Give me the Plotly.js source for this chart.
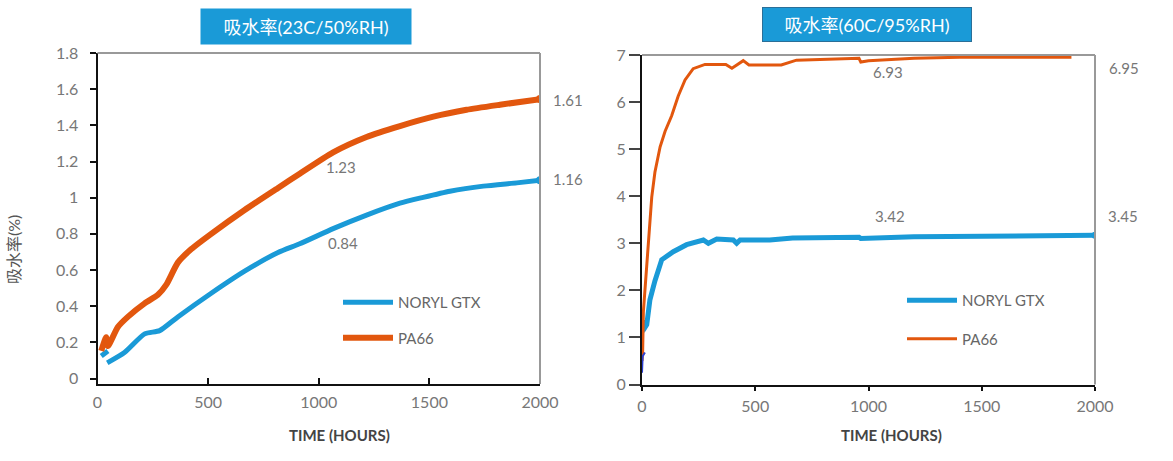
<!DOCTYPE html>
<html>
<head>
<meta charset="utf-8">
<script src="https://cdn.plot.ly/plotly-3.0.1.min.js"></script>
<style>html,body{margin:0;padding:0;background:#fff;}#chart{width:1173px;height:461px;}</style>
</head>
<body>
<div id="chart"></div>
<script>
// ---- Data: left chart (23C / 50%RH) ----
const leftPA66Hours   = [17, 39, 47, 92, 137, 213, 273, 311, 363, 424, 514, 665, 816, 914, 1065, 1216, 1367, 1518, 1668, 1819, 2000];
const leftPA66Values  = [0.153, 0.228, 0.18, 0.285, 0.341, 0.416, 0.463, 0.519, 0.641, 0.716, 0.80, 0.932, 1.054, 1.133, 1.251, 1.336, 1.396, 1.448, 1.486, 1.514, 1.545];
const leftNorylHours  = [17, 47, null, 44, 122, 213, 281, 363, 514, 665, 816, 914, 1065, 1216, 1367, 1472, 1593, 1744, 1895, 2000];
const leftNorylValues = [0.125, 0.153, null, 0.087, 0.144, 0.247, 0.265, 0.341, 0.472, 0.594, 0.697, 0.745, 0.829, 0.904, 0.970, 1.002, 1.036, 1.064, 1.082, 1.096];

// ---- Data: right chart (60C / 95%RH) ----
const rightPA66Hours   = [0, 3, 6, 21, 30, 43, 57, 80, 102, 131, 160, 190, 226, 278, 370, 397, 447, 472, 615, 682, 958, 966, 1000, 1201, 1402, 1896];
const rightPA66Values  = [0.5, 0.72, 1.54, 2.47, 3.1, 3.98, 4.51, 5.05, 5.38, 5.71, 6.13, 6.47, 6.71, 6.80, 6.80, 6.72, 6.88, 6.79, 6.79, 6.89, 6.93, 6.85, 6.88, 6.93, 6.95, 6.95];
const rightNorylHours  = [0, 2, 5, 21, 35, 57, 87, 138, 197, 271, 293, 330, 403, 418, 433, 564, 665, 958, 966, 1200, 2000];
const rightNorylValues = [1.1, 1.37, 1.15, 1.27, 1.8, 2.2, 2.65, 2.82, 2.97, 3.07, 3.0, 3.09, 3.07, 3.0, 3.07, 3.07, 3.11, 3.13, 3.1, 3.14, 3.17];
const rightStartHours  = [0, 3, 13];
const rightStartValues = [0.25, 0.6, 0.68];

// ---- Text ----
const seriesNames = ['NORYL GTX', 'PA66'];
const chartTitles = ['吸水率(23C/50%RH)', '吸水率(60C/95%RH)'];
const yTitle = '吸水率(%)';
const xTitle = 'TIME (HOURS)';
const leftTicks = [0, 0.2, 0.4, 0.6, 0.8, 1, 1.2, 1.4, 1.6, 1.8];
const rightTicks = [0, 1, 2, 3, 4, 5, 6, 7];
const xTicks = [0, 500, 1000, 1500, 2000];
const leftLabels = ['1.61', '1.16', '1.23', '0.84'];
const rightLabels = ['6.93', '6.95', '3.42', '3.45'];

const BLUE = '#1a9ad7', ORANGE = '#e2570e', DARKBLUE = '#2a3fd0';
const FONT = "Lato, 'Noto Sans CJK SC', sans-serif";
const W = 1173, H = 461;
const PX = x => x / W, PY = y => 1 - y / H;
const last = a => a[a.length - 1];

const traces = [
  {x: leftNorylHours, y: leftNorylValues, name: seriesNames[0], xaxis: 'x', yaxis: 'y', mode: 'lines',
   line: {color: BLUE, width: 5, shape: 'spline', smoothing: 0.6}, legend: 'legend', legendgroup: 'a', connectgaps: false},
  {x: leftPA66Hours, y: leftPA66Values, name: seriesNames[1], xaxis: 'x', yaxis: 'y', mode: 'lines',
   line: {color: ORANGE, width: 6, shape: 'spline', smoothing: 0.6}, legend: 'legend', legendgroup: 'b'},
  {x: [last(leftNorylHours)], y: [last(leftNorylValues)], xaxis: 'x', yaxis: 'y', mode: 'markers',
   marker: {color: BLUE, size: 8}, showlegend: false, hoverinfo: 'skip'},
  {x: [last(leftPA66Hours)], y: [last(leftPA66Values)], xaxis: 'x', yaxis: 'y', mode: 'markers',
   marker: {color: ORANGE, size: 8}, showlegend: false, hoverinfo: 'skip'},

  {x: rightNorylHours, y: rightNorylValues, name: seriesNames[0], xaxis: 'x2', yaxis: 'y2', mode: 'lines',
   line: {color: BLUE, width: 5}, legend: 'legend2', legendgroup: 'c'},
  {x: rightPA66Hours, y: rightPA66Values, name: seriesNames[1], xaxis: 'x2', yaxis: 'y2', mode: 'lines',
   line: {color: ORANGE, width: 3}, legend: 'legend2', legendgroup: 'd'},
  {x: rightStartHours, y: rightStartValues, xaxis: 'x2', yaxis: 'y2', mode: 'lines',
   line: {color: DARKBLUE, width: 2}, showlegend: false, hoverinfo: 'skip'},
  {x: [last(rightNorylHours)], y: [last(rightNorylValues)], xaxis: 'x2', yaxis: 'y2', mode: 'markers',
   marker: {color: BLUE, size: 7}, showlegend: false, hoverinfo: 'skip'}
];

const tickFont = {family: FONT, size: 16, color: '#777'};
const xAxisBase = {
  range: [0, 2000], tickvals: xTicks, showgrid: false, zeroline: false,
  showline: true, linecolor: '#111', linewidth: 2, tickfont: tickFont,
  tickcolor: '#111', tickwidth: 2, fixedrange: true
};

function label(text, x, y, font, extra) {
  return Object.assign({text: text, xref: 'paper', yref: 'paper', x: PX(x), y: PY(y),
    xanchor: 'center', yanchor: 'middle', showarrow: false, font: font}, extra || {});
}
const valFont = {family: FONT, size: 15, color: '#777'};
const titleFont = {family: FONT, size: 18, color: '#fff'};
const xtFont = {family: FONT, size: 15, color: '#444', weight: 'bold'};

const layout = {
  width: W, height: H, margin: {l: 0, r: 0, t: 0, b: 0},
  paper_bgcolor: '#fff', plot_bgcolor: '#fff',
  font: {family: FONT},
  xaxis: Object.assign({}, xAxisBase, {domain: [PX(97.5), PX(540)], anchor: 'y', ticks: 'inside', ticklen: 6, ticklabelstandoff: 3}),
  yaxis: {domain: [PY(384), PY(53)], anchor: 'x', range: [-0.03, 1.8], tickvals: leftTicks,
          showgrid: false, zeroline: false, showline: true, linecolor: '#111', linewidth: 2,
          ticks: 'outside', ticklen: 6, tickcolor: '#111', tickwidth: 2, tickfont: tickFont, ticklabelstandoff: 8, fixedrange: true},
  xaxis2: Object.assign({}, xAxisBase, {domain: [PX(642), PX(1095)], anchor: 'y2', ticks: 'outside', ticklen: 4, ticklabelstandoff: 2}),
  yaxis2: {domain: [PY(384.5), PY(55)], anchor: 'x2', range: [0, 7], tickvals: rightTicks,
           showgrid: false, zeroline: false, showline: true, linecolor: '#111', linewidth: 2,
           ticks: 'outside', ticklen: 11, tickcolor: '#444', tickwidth: 2, tickfont: tickFont, fixedrange: true},
  showlegend: true,
  legend: {x: PX(338), y: PY(286), xanchor: 'left', yanchor: 'top', bgcolor: 'rgba(0,0,0,0)',
           font: {family: FONT, size: 15, color: '#666'}, itemwidth: 50, tracegroupgap: 13, traceorder: 'grouped'},
  legend2: {x: PX(902), y: PY(284), xanchor: 'left', yanchor: 'top', bgcolor: 'rgba(0,0,0,0)',
            font: {family: FONT, size: 15, color: '#666'}, itemwidth: 50, tracegroupgap: 16, traceorder: 'grouped'},
  shapes: [
    {type: 'line', xref: 'x domain', yref: 'y domain', x0: 0, x1: 1, y0: 1, y1: 1, line: {color: '#999', width: 2}},
    {type: 'line', xref: 'x domain', yref: 'y domain', x0: 1, x1: 1, y0: 0, y1: 1, line: {color: '#999', width: 2}},
    {type: 'line', xref: 'x2 domain', yref: 'y2 domain', x0: 0, x1: 1, y0: 1, y1: 1, line: {color: '#999', width: 2}},
    {type: 'line', xref: 'x2 domain', yref: 'y2 domain', x0: 1, x1: 1, y0: 0, y1: 1, line: {color: '#999', width: 2}}
  ],
  annotations: [
    label(chartTitles[0], 306, 27, titleFont, {bgcolor: BLUE, width: 206, height: 31, borderpad: 2}),
    label(chartTitles[1], 867, 24.5, titleFont, {bgcolor: BLUE, bordercolor: '#2b6f98', borderwidth: 1, width: 206, height: 31, borderpad: 1}),
    label(yTitle, 13, 250, {family: FONT, size: 16, color: '#555'}, {textangle: -90}),
    label(xTitle, 339, 435, xtFont),
    label(xTitle, 892, 435, xtFont),
    label(leftLabels[0], 568, 100, valFont),
    label(leftLabels[1], 568, 179, valFont),
    label(leftLabels[2], 341, 167, valFont),
    label(leftLabels[3], 343, 243, valFont),
    label(rightLabels[0], 888, 72, valFont),
    label(rightLabels[1], 1124, 68, valFont),
    label(rightLabels[2], 890, 216, valFont),
    label(rightLabels[3], 1123, 216, valFont)
  ]
};

Plotly.newPlot('chart', traces, layout, {displayModeBar: false, staticPlot: true});
</script>
</body>
</html>
